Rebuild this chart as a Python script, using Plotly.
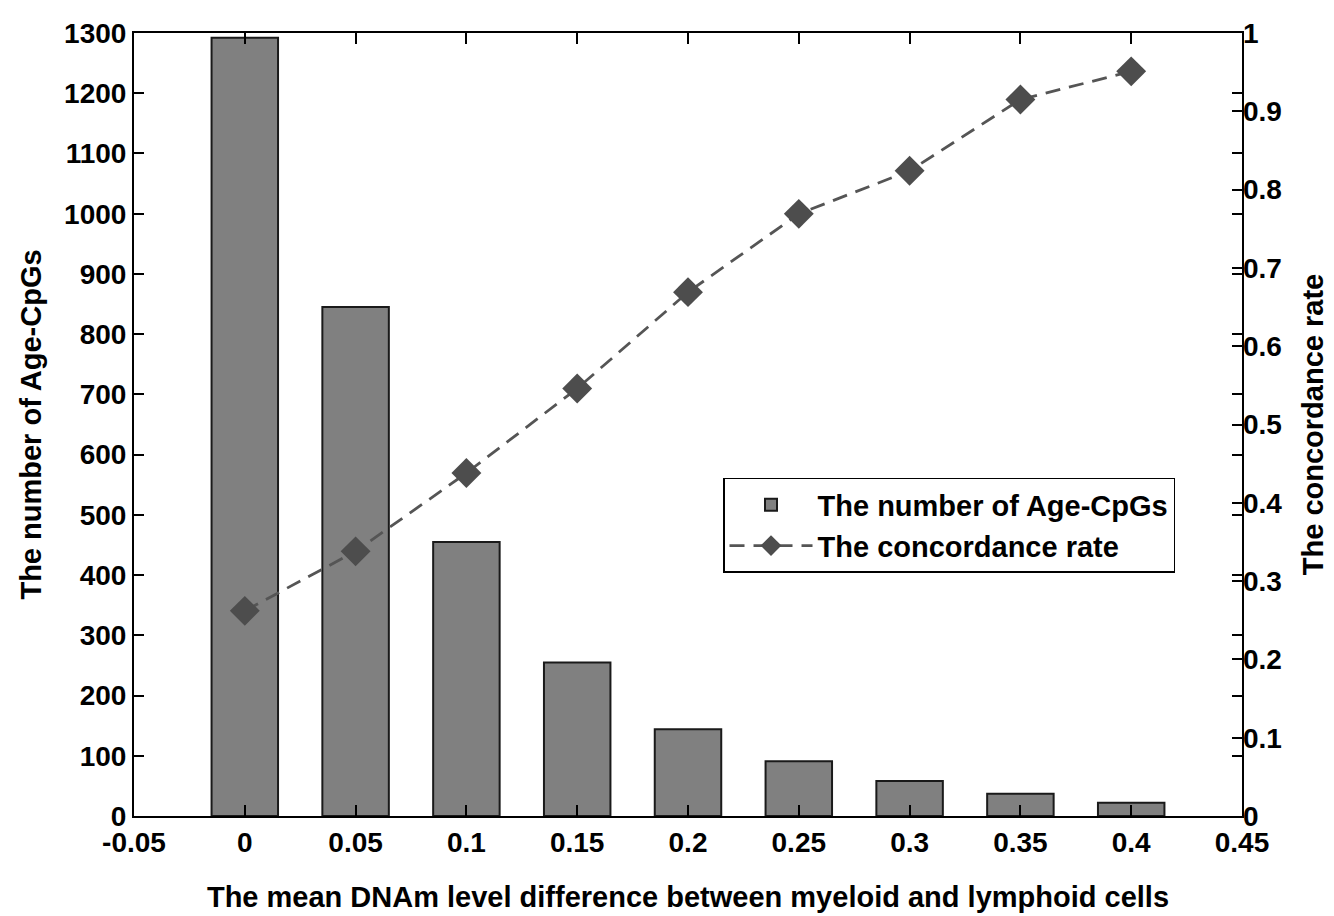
import plotly.graph_objects as go

# Data
diff_levels = [0, 0.05, 0.1, 0.15, 0.2, 0.25, 0.3, 0.35, 0.4]
age_cpg_counts = [1292, 845, 455, 255, 144, 91, 58, 37, 22]
concordance_rate = [0.262, 0.338, 0.438, 0.546, 0.669, 0.769, 0.824, 0.915, 0.951]

x_ticks = [-0.05, 0, 0.05, 0.1, 0.15, 0.2, 0.25, 0.3, 0.35, 0.4, 0.45]
x_tick_labels = ["-0.05", "0", "0.05", "0.1", "0.15", "0.2", "0.25", "0.3", "0.35", "0.4", "0.45"]
y_ticks = list(range(0, 1301, 100))
y2_ticks = [0, 0.1, 0.2, 0.3, 0.4, 0.5, 0.6, 0.7, 0.8, 0.9, 1]
y2_tick_labels = ["0", "0.1", "0.2", "0.3", "0.4", "0.5", "0.6", "0.7", "0.8", "0.9", "1"]

FONT = "Liberation Sans"
tick_font = dict(family=FONT, size=28, color="black", weight="bold")
title_font = dict(family=FONT, size=29, color="black", weight="bold")

fig = go.Figure()
fig.add_trace(go.Bar(
    x=diff_levels, y=age_cpg_counts, width=0.03,
    name="The number of Age-CpGs",
    marker=dict(color="#808080", line=dict(color="#1a1a1a", width=2)),
))
fig.add_trace(go.Scatter(
    x=diff_levels, y=concordance_rate, yaxis="y2",
    mode="lines+markers", name="The concordance rate",
    line=dict(color="#555555", width=2.8, dash="15px,9px"),
    marker=dict(symbol="diamond", size=23, color="#4d4d4d",
                line=dict(color="#4d4d4d", width=0)),
))

fig.update_layout(
    width=1326, height=908,
    margin=dict(l=126, r=92, t=25, b=100, autoexpand=False),
    paper_bgcolor="white", plot_bgcolor="white",
    font=dict(family=FONT, size=28, color="black", weight="bold"),
    showlegend=True,
    legend=dict(
        x=0.5316, y=0.4317, xanchor="left", yanchor="top",
        bgcolor="white", bordercolor="black", borderwidth=1.5,
        font=dict(family=FONT, size=29, color="black", weight="bold"),
        itemwidth=83, tracegroupgap=0,
    ),
    xaxis=dict(
        range=[-0.05, 0.45], tickmode="array", tickvals=x_ticks, ticktext=x_tick_labels,
        ticks="inside", ticklen=11, tickwidth=1.5, tickcolor="black",
        showline=True, linecolor="black", linewidth=2, mirror="ticks",
        showgrid=False, zeroline=False, automargin=False,
        tickfont=tick_font,
        title=dict(text="The mean DNAm level difference between myeloid and lymphoid cells",
                   font=title_font, standoff=30),
    ),
    yaxis=dict(
        range=[0, 1300], tickmode="array", tickvals=y_ticks,
        ticks="inside", ticklen=10, tickwidth=1.5, tickcolor="black",
        showline=True, linecolor="black", linewidth=2, mirror="ticks",
        showgrid=False, zeroline=False, automargin=False,
        tickfont=tick_font,
        title=dict(text="The number of Age-CpGs", font=title_font, standoff=14),
    ),
    yaxis2=dict(
        range=[0, 1], overlaying="y", side="right",
        tickmode="array", tickvals=y2_ticks, ticktext=y2_tick_labels,
        ticks="inside", ticklen=10, tickwidth=1.5, tickcolor="black",
        showline=False, showgrid=False, zeroline=False, automargin=False,
        tickfont=tick_font,
        title=dict(text="The concordance rate", font=title_font, standoff=21),
    ),
)

fig.write_html("out.html")
